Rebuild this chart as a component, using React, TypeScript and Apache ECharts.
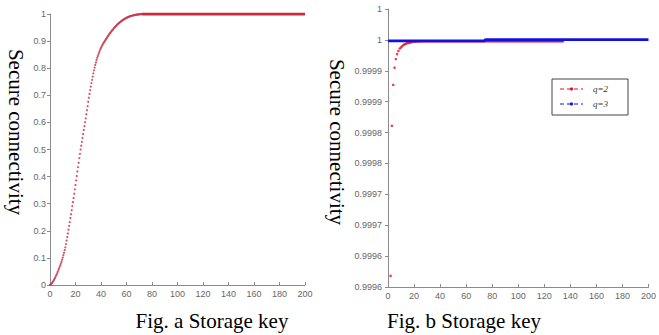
import React, { useEffect, useRef } from "react";
import * as echarts from "echarts";

// ---------- Fig. a : secure connectivity vs storage key ----------
const aXTicks = [0, 20, 40, 60, 80, 100, 120, 140, 160, 180, 200];
const aYTickLabels = ["0", "0.1", "0.2", "0.3", "0.4", "0.5", "0.6", "0.7", "0.8", "0.9", "1"];
const aRiseStep = 0.5; // storage key step of the rising part
const aRiseValues = [
  0.0, 0.002, 0.004, 0.007, 0.01, 0.014, 0.018, 0.022, 0.027, 0.032,
  0.037, 0.042, 0.048, 0.054, 0.06, 0.066, 0.072, 0.078, 0.085, 0.093,
  0.101, 0.11, 0.119, 0.129, 0.139, 0.151, 0.164, 0.177, 0.19, 0.204,
  0.218, 0.232, 0.247, 0.261, 0.276, 0.291, 0.306, 0.321, 0.337, 0.353,
  0.369, 0.386, 0.402, 0.419, 0.435, 0.451, 0.468, 0.484, 0.5, 0.514,
  0.528, 0.543, 0.557, 0.572, 0.586, 0.601, 0.615, 0.63, 0.645, 0.66,
  0.676, 0.691, 0.705, 0.719, 0.732, 0.745, 0.757, 0.769, 0.781, 0.792,
  0.802, 0.812, 0.821, 0.83, 0.838, 0.845, 0.852, 0.858, 0.864, 0.87,
  0.875, 0.88, 0.885, 0.889, 0.893, 0.897, 0.9, 0.904, 0.908, 0.911,
  0.915, 0.919, 0.922, 0.926, 0.929, 0.932, 0.935, 0.938, 0.941, 0.944,
  0.947, 0.95, 0.952, 0.955, 0.957, 0.96, 0.962, 0.964, 0.966, 0.968,
  0.97, 0.972, 0.974, 0.976, 0.977, 0.979, 0.98, 0.982, 0.983, 0.985,
  0.986, 0.987, 0.988, 0.989, 0.99, 0.991, 0.992, 0.993, 0.993, 0.994,
  0.995, 0.995, 0.996, 0.996, 0.997, 0.997, 0.998, 0.998, 0.998, 0.999,
  0.999, 0.999, 0.999, 1.0, 1.0,
];
const aPlateauKeys = [72, 200];
const aPlateauValues = [1.0, 1.0];

// ---------- Fig. b : q=2 and q=3 ----------
const bXTicks = [0, 20, 40, 60, 80, 100, 120, 140, 160, 180, 200];
const bYTickLabels = ["0.9996", "0.9996", "0.9997", "0.9997", "0.9998", "0.9998", "0.9999", "0.9999", "1", "1"];
const bRedKeys = [2, 3, 4, 5, 6, 7, 8, 9, 10, 11, 12, 13, 14, 15, 16, 17, 18, 19, 20, 21, 22, 23, 24];
const bRedValues = [
  0.999618, 0.999861, 0.999927, 0.999955, 0.999969, 0.999977, 0.999982, 0.999986,
  0.999988, 0.99999, 0.999992, 0.999993, 0.999994, 0.999995, 0.999995, 0.999996,
  0.999996, 0.999997, 0.999997, 0.9999972, 0.9999974, 0.9999975, 0.9999975,
];
const bRedTailKeys = [24, 135];
const bRedTailValues = [0.9999975, 0.9999975];
const bBlueKeys = [0, 74, 75, 200];
const bBlueValues = [0.9999985, 0.9999985, 1.0000005, 1.0000005];
const legendNames = ["q=2", "q=3"];

const RED_A = "#cc2a3c";
const RED_B = "#e0101e";
const BLUE = "#1010e8";
const LABEL_FONT = "'Liberation Sans Narrow', 'Arial Narrow', 'Liberation Sans', sans-serif";
const SERIF = "'Liberation Serif', 'Times New Roman', serif";

export default function App() {
  const ref = useRef<HTMLDivElement>(null);

  useEffect(() => {
    document.body.style.margin = "0";
    if (!ref.current) return;
    const chart = echarts.init(ref.current, null, { renderer: "svg" });

    const axisCommon = {
      axisLine: { show: true, lineStyle: { color: "#8a8a8a", width: 1 } },
      splitLine: { show: false },
    };
    const xLabel = { color: "#666", fontSize: 9, fontFamily: LABEL_FONT, margin: 4 };

    const aRise = aRiseValues.map((v, i) => [i * aRiseStep, v]);
    const aPlateau = aPlateauKeys.map((k, i) => [k, aPlateauValues[i]]);
    const bRed = bRedKeys.map((k, i) => [k, bRedValues[i]]);
    const bRedTail = bRedTailKeys.map((k, i) => [k, bRedTailValues[i]]);
    const bBlue = bBlueKeys.map((k, i) => [k, bBlueValues[i]]);

    const lx = 552, ly = 79;
    const legendItem = (y: number, color: string, name: string) => [
      { type: "line", shape: { x1: lx + 8, y1: y, x2: lx + 31, y2: y }, style: { stroke: color, lineWidth: 1, lineDash: [4, 3] } },
      { type: "circle", shape: { cx: lx + 19.5, cy: y, r: 1.6 }, style: { fill: color } },
      { type: "text", x: lx + 41, y: y, style: { text: name, fill: "#333", font: "italic 9px " + SERIF, textVerticalAlign: "middle" } },
    ];

    chart.setOption({
      animation: false,
      backgroundColor: "#ffffff",
      grid: [
        { left: 50, top: 14, width: 255, height: 271 },
        { left: 388, top: 9, width: 264, height: 278 },
      ],
      xAxis: [
        {
          gridIndex: 0, type: "value", min: aXTicks[0], max: aXTicks[aXTicks.length - 1], interval: 20,
          ...axisCommon,
          axisTick: { show: true, inside: true, length: 3, lineStyle: { color: "#8a8a8a" } },
          axisLabel: xLabel,
        },
        {
          gridIndex: 1, type: "value", min: bXTicks[0], max: bXTicks[bXTicks.length - 1], interval: 20,
          ...axisCommon,
          axisTick: { show: true, inside: true, length: 3, lineStyle: { color: "#8a8a8a" } },
          axisLabel: xLabel,
        },
      ],
      yAxis: [
        {
          gridIndex: 0, type: "value", min: 0, max: 1, interval: 0.1,
          ...axisCommon,
          axisTick: { show: true, inside: false, length: 3, lineStyle: { color: "#8a8a8a" } },
          axisLabel: {
            color: "#666", fontSize: 9, fontFamily: LABEL_FONT, margin: 4,
            formatter: (v: number) => aYTickLabels[Math.round(v / 0.1)] ?? "",
          },
        },
        {
          gridIndex: 1, type: "value", min: 0.9996, max: 1.00005, interval: 0.00005,
          ...axisCommon,
          axisTick: { show: true, inside: false, length: 3, lineStyle: { color: "#8a8a8a" } },
          axisLabel: {
            color: "#666", fontSize: 9, fontFamily: LABEL_FONT, margin: 6,
            formatter: (v: number) => bYTickLabels[Math.round((v - 0.9996) / 0.00005)] ?? "",
          },
        },
      ],
      series: [
        {
          type: "line", xAxisIndex: 0, yAxisIndex: 0, data: aPlateau, showSymbol: false,
          lineStyle: { color: RED_A, width: 3 },
        },
        {
          type: "scatter", xAxisIndex: 0, yAxisIndex: 0, data: aRise,
          symbol: "circle", symbolSize: 2.2, itemStyle: { color: "#c83a4e", opacity: 0.85 },
        },
        {
          type: "line", xAxisIndex: 1, yAxisIndex: 1, data: bRedTail, showSymbol: false,
          lineStyle: { color: RED_B, width: 2 },
        },
        {
          type: "line", xAxisIndex: 1, yAxisIndex: 1, data: bBlue, showSymbol: false,
          lineStyle: { color: BLUE, width: 2.8 },
        },
        {
          type: "scatter", xAxisIndex: 1, yAxisIndex: 1, data: bRed,
          symbol: "circle", symbolSize: 2.6, itemStyle: { color: RED_B }, z: 1,
        },
      ],
      graphic: [
        {
          type: "text", x: 16, y: 132, rotation: -Math.PI / 2,
          style: { text: "Secure connectivity", fill: "#000", font: "21px " + SERIF, textAlign: "center", textVerticalAlign: "middle" },
        },
        {
          type: "text", x: 337, y: 142, rotation: -Math.PI / 2,
          style: { text: "Secure connectivity", fill: "#000", font: "21px " + SERIF, textAlign: "center", textVerticalAlign: "middle" },
        },
        {
          type: "text", x: 212, y: 321,
          style: { text: "Fig. a Storage key", fill: "#000", font: "21px " + SERIF, textAlign: "center", textVerticalAlign: "middle" },
        },
        {
          type: "text", x: 464, y: 321,
          style: { text: "Fig. b Storage key", fill: "#000", font: "21px " + SERIF, textAlign: "center", textVerticalAlign: "middle" },
        },
        {
          type: "rect", shape: { x: lx, y: ly, width: 76, height: 36 },
          style: { fill: "#fff", stroke: "#444", lineWidth: 1 },
        },
        ...legendItem(ly + 10, RED_B, legendNames[0]),
        ...legendItem(ly + 25, BLUE, legendNames[1]),
      ],
    });

    return () => chart.dispose();
  }, []);

  return <div ref={ref} style={{ width: 659, height: 335 }} />;
}
